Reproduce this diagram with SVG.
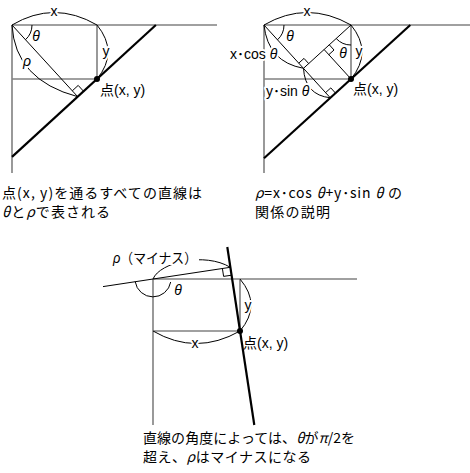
<svg xmlns="http://www.w3.org/2000/svg" width="470" height="473" viewBox="0 0 470 473">
<style>
.ax{stroke:#808080;stroke-width:1.6;fill:none}
.th{stroke:#000;stroke-width:1;fill:none}
.tk{stroke:#000;stroke-width:2.2;fill:none}
.lb{font-family:"Liberation Sans","Noto Sans CJK JP",sans-serif;font-size:14px;fill:#000}
.gk{font-style:italic}
.halo{stroke:#fff;stroke-width:4;paint-order:stroke;stroke-linejoin:round}
.cap{font-family:"Noto Sans CJK JP","Liberation Sans",sans-serif;font-size:14px;fill:#000}
</style>
<rect width="470" height="473" fill="#fff"/>

<!-- Diagram 1 -->
<g id="diagram1">
  <g id="d1-axes">
    <line class="ax" x1="12" y1="25" x2="217" y2="25"/>
    <line class="ax" x1="12" y1="25" x2="12" y2="173"/>
    <line class="ax" x1="12" y1="79" x2="97" y2="79"/>
    <line class="ax" x1="97" y1="25" x2="97" y2="79"/>
  </g>
  <g id="d1-connectors">
    <line class="tk" x1="12" y1="156.9" x2="155.9" y2="25"/>
    <line class="th" x1="12" y1="25" x2="77.7" y2="96.7"/>
    <polyline class="th" points="72.3,90.8 78.2,85.4 83.6,91.3"/>
    <path class="th" d="M12,25 Q54,0 97,25"/>
    <path class="th" d="M32,25 A20,20 0 0,1 25.5,39.7"/>
    <path class="th" d="M97,25 Q119,52 97,79"/>
    <path class="th" d="M12,25 Q15,80 77.7,96.7"/>
  </g>
  <g id="d1-point">
    <circle cx="97" cy="79" r="3" fill="#000"/>
    <text class="lb" x="100" y="95">点(x, y)</text>
  </g>
  <text class="lb halo" x="54" y="16" text-anchor="middle">x</text>
  <text class="lb gk" x="36" y="41" text-anchor="middle">θ</text>
  <text class="lb halo" x="106" y="56" text-anchor="middle">y</text>
  <text class="lb gk halo" x="27" y="66" text-anchor="middle">ρ</text>
</g>

<!-- Diagram 2 -->
<g id="diagram2">
  <g id="d2-axes">
    <line class="ax" x1="264" y1="25" x2="470" y2="25"/>
    <line class="ax" x1="264" y1="25" x2="264" y2="173"/>
    <line class="ax" x1="264" y1="79" x2="351" y2="79"/>
    <line class="ax" x1="351" y1="25" x2="351" y2="79"/>
  </g>
  <g id="d2-connectors">
    <line class="tk" x1="264" y1="158.2" x2="410.3" y2="25"/>
    <line class="th" x1="264" y1="25" x2="330.3" y2="97.8"/>
    <line class="th" x1="351" y1="25" x2="303.5" y2="68.3"/>
    <line class="th" x1="351" y1="79" x2="324.1" y2="49.5"/>
    <polyline class="th" points="308.7,63.6 304,58.4 298.8,63.1"/>
    <polyline class="th" points="329.3,44.8 334,50 328.8,54.7"/>
    <polyline class="th" points="325.6,92.6 330.8,87.9 335.5,93.1"/>
    <path class="th" d="M264,25 Q307,0 351,25"/>
    <path class="th" d="M284,25 A20,20 0 0,1 277.5,39.8"/>
    <path class="th" d="M336.2,38.5 A20,20 0 0,0 351,45"/>
    <path class="th" d="M351,25 Q373,52 351,79"/>
    <path class="th" d="M264,25 Q268,62 303.5,68.3"/>
    <path class="th" d="M303.5,68.3 Q305,95 330.3,97.8"/>
  </g>
  <g id="d2-point">
    <circle cx="351" cy="79" r="3" fill="#000"/>
    <text class="lb" x="353" y="94">点(x, y)</text>
  </g>
  <text class="lb halo" x="307" y="16" text-anchor="middle">x</text>
  <text class="lb gk" x="290" y="41" text-anchor="middle">θ</text>
  <text class="lb gk" x="343" y="58" text-anchor="middle">θ</text>
  <text class="lb halo" x="359" y="56" text-anchor="middle">y</text>
  <text class="lb halo" x="230" y="59">x･cos <tspan class="gk">θ</tspan></text>
  <text class="lb halo" x="266" y="96">y･sin <tspan class="gk">θ</tspan></text>
</g>

<!-- Diagram 3 -->
<g id="diagram3">
  <g id="d3-axes">
    <line class="ax" x1="153" y1="279" x2="357" y2="279"/>
    <line class="ax" x1="153" y1="279" x2="153" y2="425"/>
    <line class="ax" x1="153" y1="331" x2="240" y2="331"/>
    <line class="ax" x1="240" y1="279" x2="240" y2="331"/>
  </g>
  <g id="d3-connectors">
    <line class="tk" x1="227.3" y1="247" x2="254.3" y2="425"/>
    <line class="th" x1="103" y1="286.6" x2="230.3" y2="267.3"/>
    <polyline class="th" points="222.4,268.5 223.6,276.4 231.5,275.2"/>
    <path class="th" d="M135.2,281.7 A18,18 0 0,0 170.7,282"/>
    <path class="th" d="M153,279 C160,262 205,252 230.3,267.3"/>
    <path class="th" d="M153,331 Q196,356 240,331"/>
    <path class="th" d="M240,279 Q262,305 240,331"/>
  </g>
  <g id="d3-point">
    <circle cx="240" cy="331" r="3" fill="#000"/>
    <text class="lb" x="243" y="348">点(x, y)</text>
  </g>
  <g id="d3-rho-label">
    <rect x="111" y="250" width="88" height="15" fill="#fff"/>
    <text class="lb" x="113" y="263" textLength="84" lengthAdjust="spacingAndGlyphs"><tspan class="gk">ρ</tspan>（マイナス）</text>
  </g>
  <text class="lb gk" x="178" y="295" text-anchor="middle">θ</text>
  <text class="lb halo" x="248" y="310" text-anchor="middle">y</text>
  <text class="lb halo" x="195" y="348" text-anchor="middle">x</text>
</g>

<!-- Captions -->
<g id="captions">
  <text class="cap" x="2" y="198" textLength="200" lengthAdjust="spacing">点(x, y)を通るすべての直線は</text>
  <text class="cap" x="2" y="217" textLength="108" lengthAdjust="spacing"><tspan class="gk">θ</tspan>と<tspan class="gk">ρ</tspan>で表される</text>
  <text class="cap" x="255" y="198" textLength="147" lengthAdjust="spacing"><tspan class="gk">ρ</tspan>=x･cos <tspan class="gk">θ</tspan>+y･sin <tspan class="gk">θ</tspan> の</text>
  <text class="cap" x="255" y="217" textLength="75" lengthAdjust="spacing">関係の説明</text>
  <text class="cap" x="143" y="443" textLength="212" lengthAdjust="spacing">直線の角度によっては、<tspan class="gk">θ</tspan>が<tspan class="gk">π</tspan>/2を</text>
  <text class="cap" x="143" y="462" textLength="168" lengthAdjust="spacing">超え、<tspan class="gk">ρ</tspan>はマイナスになる</text>
</g>
</svg>
